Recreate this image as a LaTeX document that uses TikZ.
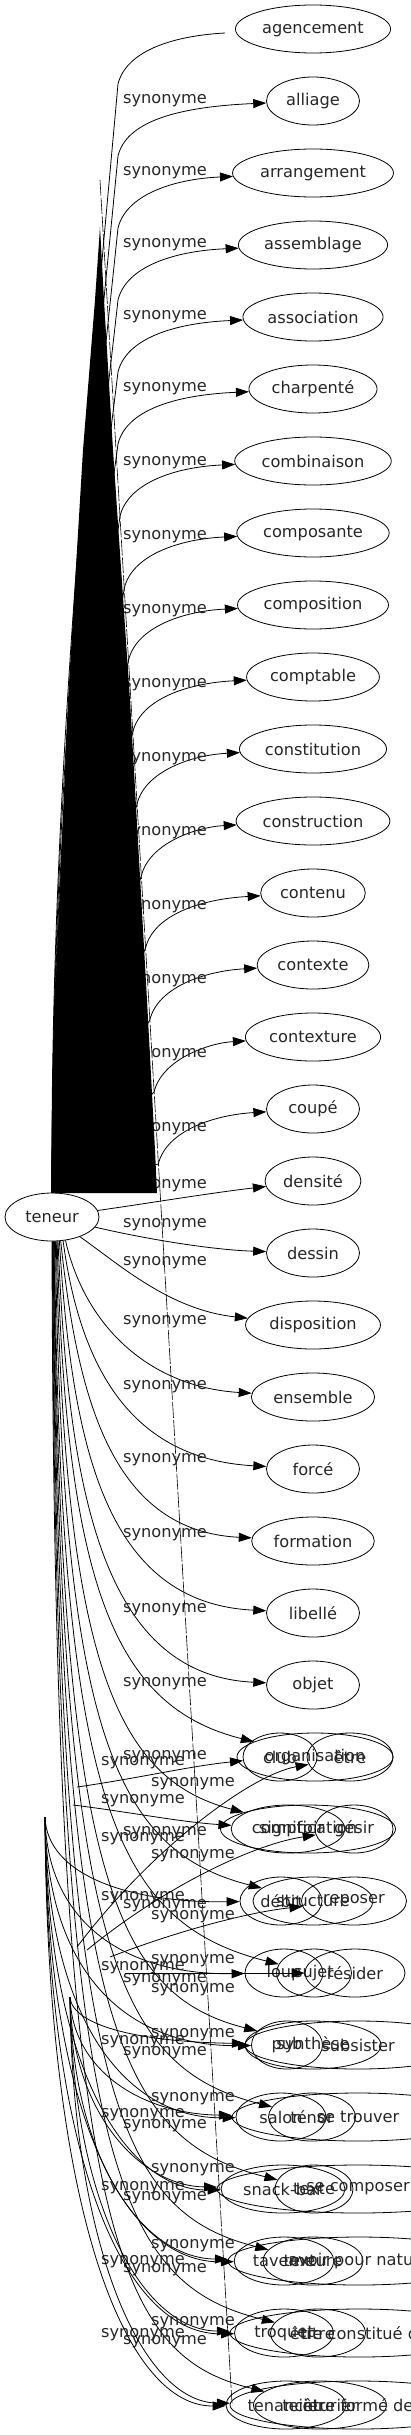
\documentclass[tikz,border=0pt]{standalone}
\usepackage{fontspec}
\setmainfont{DejaVu Sans}
\usetikzlibrary{arrows.meta,shapes.geometric}
\begin{document}
\begin{tikzpicture}[x=1pt,y=-1pt,
  every node/.style={font=\fontsize{16.2}{19}\selectfont, text=black!85},
  nd/.style={draw=black, ellipse, line width=0.8pt, inner xsep=4pt, inner ysep=2pt, minimum height=48pt, minimum width=93pt},
  lab/.style={inner sep=0pt},
  ed/.style={draw=black, line width=0.8pt, -{Triangle[length=13pt,width=9pt]}},
  edn/.style={draw=black, line width=0.8pt},
  dsh/.style={draw=black, line width=0.6pt, dash pattern=on 16pt off 2pt}
]
\useasboundingbox (0,0) rectangle (410,2435);

% ---- upper column of nodes
\foreach \w [count=\i from 0] in {agencement,alliage,arrangement,assemblage,association,charpenté,combinaison,composante,composition,comptable,constitution,construction,contenu,contexte,contexture,coupé,densité,dessin,disposition,ensemble,forcé,formation,libellé,objet}
  \node[nd] (n\i) at (313,{29+72*\i}) {\w};

\node[nd, minimum width=94pt] (teneur) at (52,1217) {teneur};

% ---- lower overlapping rows
\node[nd, minimum width=74pt] (c0) at (280,1757) {club};
\node[nd, minimum width=156pt] (n24) at (315,1757) {organisation};
\node[nd, minimum width=86pt] (b0) at (350,1757) {être};

\node[nd, minimum width=113pt] (c1) at (288,1829) {comptoir};
\node[nd, minimum width=175pt] (n25) at (308,1829) {signification};
\node[nd, minimum width=78pt] (b1) at (354,1829) {gésir};

\node[nd, minimum width=82pt] (c2) at (281,1901) {débit};
\node[nd, minimum width=120pt] (n26) at (313,1901) {structure};
\node[nd, minimum width=105pt] (b2) at (354,1901) {reposer};

\node[nd, minimum width=78pt] (c3) at (284,1973) {loup};
\node[nd, minimum width=75pt] (n27) at (314,1973) {sujet};
\node[nd, minimum width=100pt] (b3) at (355,1973) {résider};

\node[nd, minimum width=71pt] (c4) at (287,2045) {pub};
\node[nd, minimum width=136pt] (n28) at (313,2045) {synthèse};
\node[nd, minimum width=226pt] (b4) at (358,2045) {subsister};

\node[nd, minimum width=90pt] (c5) at (281,2117) {salon};
\node[nd, minimum width=87pt] (n29) at (312,2117) {ténor};
\node[nd, minimum width=252pt] (b5) at (358,2117) {se trouver};

\node[nd, minimum width=115pt] (c6) at (283,2189) {snack-bar};
\node[nd, minimum width=78pt] (n30) at (314,2189) {texte};
\node[nd, minimum width=282pt] (b6) at (358,2189) {se composer};

\node[nd, minimum width=95pt] (c7) at (284,2261) {taverne};
\node[nd, minimum width=100pt] (n31) at (313,2261) {texture};
\node[nd, minimum width=262pt] (b7) at (359,2261) {avoir pour nature};

\node[nd, minimum width=99pt] (c8) at (284,2333) {troquet};
\node[nd, minimum width=95pt] (n32) at (318,2333) {titre};
\node[nd, minimum width=258pt] (b8) at (359,2333) {être constitué de};

\node[nd, minimum width=82pt] (c9) at (286,2405) {tenancier};
\node[nd, minimum width=133pt] (n33) at (320,2405) {teinturier};
\node[nd, minimum width=256pt] (b9) at (358,2405) {être formé de};

% ---- dashed long connector
\coordinate (dstart) at (100,180);
\coordinate (dend) at (232,2403);
\draw[dsh] (dstart) -- (dend);

% ---- upper edges
\coordinate (agfree) at (225,33);
\draw[edn] (teneur.north) .. controls (50,800) and (88,417) .. (118,84) .. controls (126,52) and (170,36) .. (agfree);
\foreach \t in {1,...,15} {
  \pgfmathsetmacro\yt{29+72*\t}
  \pgfmathsetmacro\py{\yt+55}
  \pgfmathsetmacro\px{max(118,103+0.059*(\py-227))}
  \pgfmathsetmacro\ca{1193-0.4*(1193-\py)}
  \pgfmathsetmacro\cb{\py+0.3*(1193-\py)}
  \pgfmathsetmacro\cx{\px-30}
  \pgfmathsetmacro\off{max(0,(\t-5)*2)}
  \pgfmathsetmacro\qa{\px+8}
  \pgfmathsetmacro\qb{\yt+22}
  \pgfmathsetmacro\qc{\px+55}
  \pgfmathsetmacro\qd{\yt+6}
  \pgfmathsetmacro\ly{\yt+\off}
  \draw[ed] (teneur.north) .. controls (52,\ca) and (\cx,\cb) .. (\px,\py) .. controls (\qa,\qb) and (\qc,\qd) .. (n\t);
  \node[lab] (l\t) at (165,\ly) {synonyme};
}

% ---- right / downward edges from teneur
\draw[ed] (teneur) .. controls (150,1203) and (210,1193) .. (n16);
\node[lab] (l16) at (165,1186) {synonyme};
\draw[ed] (teneur) .. controls (150,1240) and (215,1250) .. (n17);
\node[lab] (l17) at (165,1225) {synonyme};
\draw[ed] (teneur) .. controls (120,1265) and (170,1310) .. (n18);
\node[lab] (l18) at (165,1263) {synonyme};
\foreach \t/\ang/\ax/\bx/\ly in {19/-60/85/150/1322, 20/-65/80/130/1387, 21/-70/78/115/1460, 22/-73/72/105/1535, 23/-76/68/100/1610} {
  \pgfmathsetmacro\yt{29+72*\t}
  \pgfmathsetmacro\ca{1241+0.55*(\yt-1241)}
  \pgfmathsetmacro\cd{\yt-10}
  \draw[ed] (teneur.\ang) .. controls (\ax,\ca) and (\bx,\cd) .. (n\t);
  \node[lab] (l\t) at (165,\ly) {synonyme};
}
\foreach \t/\ang/\ax/\ly in {24/-78/66/1684, 25/-80/64/1757, 26/-82/62/1833, 27/-84/60/1906, 28/-85/59/1980, 29/-86/58/2053, 30/-87/57/2126, 31/-88/56/2198, 32/-89/55/2270, 33/-90/54/2342} {
  \pgfmathsetmacro\yt{29+72*\t}
  \pgfmathsetmacro\ca{\yt-170}
  \pgfmathsetmacro\cd{\yt-50}
  \draw[ed] (teneur.\ang) .. controls (\ax,\ca) and (115,\cd) .. (n\t);
  \node[lab] (l\t) at (165,\ly) {synonyme};
}

% ---- second bundle
\coordinate (cC) at (45,1817);
\coordinate (cs0) at (77,1787);
\coordinate (cs1) at (73,1805);
\draw[ed] (cs0) .. controls (140,1778) and (190,1766) .. (c0);
\draw[ed] (cs1) .. controls (130,1812) and (180,1822) .. (c1);
\node[lab] (k0) at (143,1763) {synonyme};
\node[lab] (k1) at (143,1801) {synonyme};
\foreach \r/\ly in {2/1839, 3/1898, 4/1968, 5/2042, 6/2115, 7/2188, 8/2262, 9/2335} {
  \pgfmathsetmacro\yr{1757+72*\r}
  \pgfmathsetmacro\ca{1817+0.7*(\yr-1817)}
  \pgfmathsetmacro\cd{\yr+2}
  \draw[ed] (cC) .. controls (47,\ca) and (130,\cd) .. (c\r);
  \node[lab] (k\r) at (143,\ly) {synonyme};
}

% ---- third bundle
\coordinate (cB) at (70,1997);
\coordinate (bs0) at (77,1947);
\coordinate (bs1) at (87,1950);
\coordinate (bs2) at (110,1957);
\coordinate (bs3) at (125,1973);
\draw[ed] (bs0) .. controls (150,1850) and (250,1775) .. (b0);
\draw[ed] (bs1) .. controls (160,1890) and (250,1845) .. (b1);
\draw[ed] (bs2) .. controls (180,1930) and (250,1912) .. (b2);
\draw[ed] (bs3) -- (b3);
\node[lab] (m0) at (193,1784) {synonyme};
\node[lab] (m1) at (193,1856) {synonyme};
\node[lab] (m2) at (193,1917) {synonyme};
\node[lab] (m3) at (193,1961) {synonyme};
\foreach \r/\ly in {4/1990, 5/2035, 6/2099, 7/2170, 8/2246, 9/2323} {
  \pgfmathsetmacro\yr{1757+72*\r}
  \pgfmathsetmacro\ca{1997+0.6*(\yr-1997)}
  \pgfmathsetmacro\cd{\yr-3}
  \draw[ed] (cB) .. controls (72,\ca) and (140,\cd) .. (b\r);
  \node[lab] (m\r) at (193,\ly) {synonyme};
}

% ---- black mass
\fill[black] (100,227) -- (104,300) -- (113,450) -- (130,700) -- (147,1000) -- (155,1150) -- (157,1193) -- (52,1193) -- (52,1150) -- (55,1000) -- (68,700) -- (83,450) -- (95,300) -- cycle;
\end{tikzpicture}
\end{document}
